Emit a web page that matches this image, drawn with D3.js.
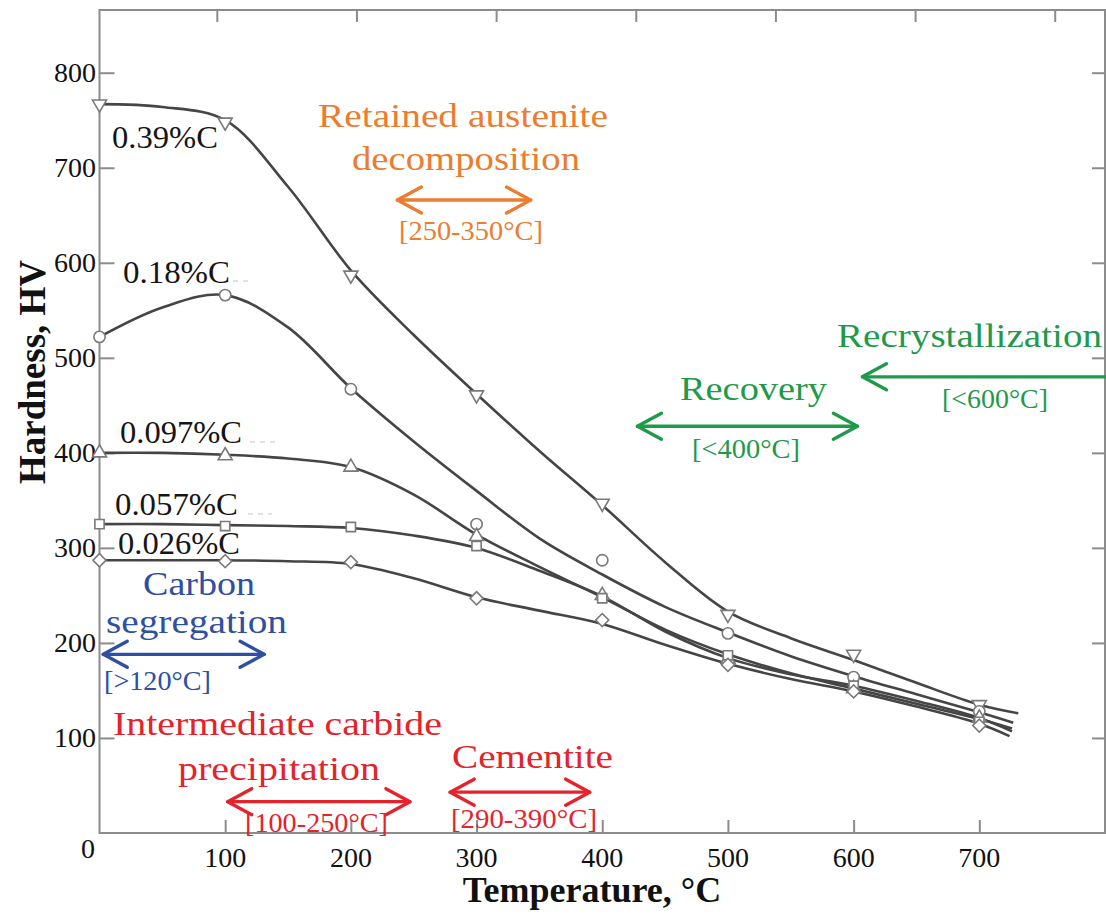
<!DOCTYPE html>
<html><head><meta charset="utf-8">
<script src="https://cdnjs.cloudflare.com/ajax/libs/d3/7.8.5/d3.min.js"></script>
<style>html,body{margin:0;padding:0;background:#fff;}svg{display:block;}</style>
</head><body>
<script>
// ---------------- data ----------------
// measured points (markers)
const temps = [0, 100, 200, 300, 400, 500, 600, 700];
const seriesNames = ["0.39%C", "0.18%C", "0.097%C", "0.057%C", "0.026%C"];
const hv039  = [767, 748, 587, 461, 347, 230, 188, 135];
const hv018  = [522, 566, 467, 325, 287, 210, 164, 128];
const hv0097 = [400, 397, 385, 312, 250, 183, 152, 121];
const hv0057 = [325, 323, 322, 302, 247, 187, 155, 117];
const hv0026 = [287, 286, 285, 247, 224, 177, 149, 113];
// fitted curves
const fitT    = [0, 50, 100, 150, 200, 250, 300, 350, 400, 450, 500, 550, 600, 650, 700];
const fit039  = [767, 764, 750, 680, 592, 524, 462, 402, 345, 285, 233, 205, 182, 158, 135];
const fit018  = [522, 553, 566, 532, 468, 412, 360, 310, 272, 238, 211, 186, 165, 146, 127];
const fit0097 = [400, 400, 398, 394, 385, 356, 314, 280, 248, 214, 188, 168, 152, 136, 120];
const fit0057 = [325, 325, 324, 323, 321, 313, 300, 276, 249, 212, 184, 167, 155, 139, 121];
const fit0026 = [287, 287, 287, 286, 283, 268, 248, 234, 220, 198, 178, 162, 149, 133, 115];
const fitEndT  = [731, 727, 726, 726, 724];
const fitEndHV = [126, 116, 110, 107, 102];
const xTicks = [0, 100, 200, 300, 400, 500, 600, 700];
const yTicks = [100, 200, 300, 400, 500, 600, 700, 800];
const topTicksF = [200, 400, 600, 800, 1000, 1200, 1400];
// process ranges (°C) shown by arrows
const rangeNames = ["Retained austenite decomposition", "Carbon segregation", "Intermediate carbide precipitation", "Cementite", "Recovery", "Recrystallization"];
const rangeFrom = [237, 3, 102, 279, 428, 607];
const rangeTo   = [343, 131, 247, 390, 603, 800];
const rangeHeads = ["both", "both", "both", "both", "both", "left"];

// ---------------- layout ----------------
const W = 1106, H = 914;
const svg = d3.select("body").append("svg").attr("width", W).attr("height", H);
const x = d3.scaleLinear().domain([0, 800]).range([99.5, 1105]);
const y = d3.scaleLinear().domain([0, 866]).range([833, 10]);
const SERIF = "'Liberation Serif', 'Times New Roman', serif";
const axisCol = "#8c8c8c";

svg.append("rect").attr("x", x(0)).attr("y", y(866)).attr("width", x(800) - x(0)).attr("height", y(0) - y(866))
  .attr("fill", "none").attr("stroke", axisCol).attr("stroke-width", 2);

const gx = svg.append("g").attr("transform", `translate(0,${y(0)})`)
  .call(d3.axisTop(x).tickValues(xTicks.slice(1)).tickSize(13).tickFormat(""));
const gxTop = svg.append("g").attr("transform", `translate(0,${y(866)})`)
  .call(d3.axisBottom(x).tickValues(topTicksF.map(f => (f - 32) * 5 / 9)).tickSize(12).tickFormat(""));
const gy = svg.append("g").attr("transform", `translate(${x(0)},0)`)
  .call(d3.axisRight(y).tickValues(yTicks).tickSize(15).tickFormat(""));
const gyR = svg.append("g").attr("transform", `translate(${x(800)},0)`)
  .call(d3.axisLeft(y).tickValues(yTicks).tickSize(13).tickFormat(""));
[gx, gxTop, gy, gyR].forEach(g => {
  g.select(".domain").remove();
  g.selectAll(".tick line").attr("stroke", axisCol).attr("stroke-width", 2);
});

function txt(str, px, py, o = {}) {
  const t = svg.append("text").attr("x", px).attr("y", py)
    .attr("font-family", SERIF).attr("font-size", o.size || 28)
    .attr("font-weight", o.weight || "normal").attr("fill", o.fill || "#1a1a1a")
    .attr("text-anchor", o.anchor || "start").text(str);
  if (o.width) t.attr("textLength", o.width).attr("lengthAdjust", "spacingAndGlyphs");
  if (o.transform) t.attr("transform", o.transform);
  return t;
}

yTicks.forEach(v => txt(String(v), 96, y(v) + 9, { anchor: "end", size: 28, fill: "#111" }));
xTicks.forEach(v => {
  if (v === 0) txt("0", 88, 858, { anchor: "middle", size: 28, fill: "#111" });
  else txt(String(v), x(v), 867, { anchor: "middle", size: 28, fill: "#111" });
});

txt("Temperature, °C", 592, 902, { anchor: "middle", size: 36, weight: "bold", fill: "#111" });
txt("Hardness, HV", 0, 0, { anchor: "middle", size: 37, weight: "bold", fill: "#111", transform: "translate(45,372) rotate(-90)" });

// ---------------- curves ----------------
const allHV = [hv039, hv018, hv0097, hv0057, hv0026];
const allFit = [fit039, fit018, fit0097, fit0057, fit0026];
const symbols = [
  { type: d3.symbolTriangle, rot: 180 },
  { type: d3.symbolCircle, rot: 0 },
  { type: d3.symbolTriangle, rot: 0 },
  { type: d3.symbolSquare, rot: 0 },
  { type: d3.symbolSquare, rot: 45 }
];
const line = d3.line().x(d => x(d[0])).y(d => y(d[1])).curve(d3.curveCatmullRom.alpha(0.5));
allFit.forEach((vals, i) => {
  const pts = fitT.map((t, j) => [t, vals[j]]);
  pts.push([fitEndT[i], fitEndHV[i]]);
  svg.append("path").datum(pts).attr("d", line).attr("fill", "none")
    .attr("stroke", "#454545").attr("stroke-width", 2.6);
});
allHV.forEach((vals, i) => {
  const s = symbols[i];
  const sym = d3.symbol().type(s.type).size(s.type === d3.symbolCircle ? 100 : 85);
  svg.append("g").selectAll("path").data(temps.map((t, j) => [t, vals[j]])).join("path")
    .attr("d", sym)
    .attr("transform", d => `translate(${x(d[0])},${y(d[1])}) rotate(${s.rot})`)
    .attr("fill", "#fff").attr("stroke", "#7a7a7a").attr("stroke-width", 1.6);
});

const labelPos = [[112, 148, 106], [123, 283, 107], [120, 443, 122], [115, 515, 123], [118, 554, 122]];
seriesNames.forEach((n, i) => txt(n, labelPos[i][0], labelPos[i][1], { size: 31, width: labelPos[i][2], fill: "#151515" }));
[[233, 249, 281], [250, 276, 442], [248, 272, 514]].forEach(d =>
  svg.append("line").attr("x1", d[0]).attr("x2", d[1]).attr("y1", d[2]).attr("y2", d[2])
    .attr("stroke", "#c4c4c4").attr("stroke-width", 1.2).attr("stroke-dasharray", "5,5"));

// ---------------- annotations ----------------
const ORANGE = "#EC7C30", BLUE = "#2E4FA3", RED = "#E4232B", GREEN = "#1F9A4B";
const arrowY = [666, 188, 33, 43, 428, 480];
const arrowCol = [ORANGE, BLUE, RED, RED, GREEN, GREEN];
function arrow(i) {
  const x1 = x(rangeFrom[i]), x2 = x(rangeTo[i]), yy = y(arrowY[i]);
  const g = svg.append("g").attr("stroke", arrowCol[i]).attr("stroke-width", 3.4).attr("fill", "none")
    .attr("stroke-linecap", "round").attr("stroke-linejoin", "round");
  g.append("line").attr("x1", x1).attr("x2", x2).attr("y1", yy).attr("y2", yy);
  const L = 24, Hh = 13;
  if (rangeHeads[i] === "both" || rangeHeads[i] === "left")
    g.append("path").attr("d", `M${x1 + L},${yy - Hh}L${x1},${yy}L${x1 + L},${yy + Hh}`);
  if (rangeHeads[i] === "both" || rangeHeads[i] === "right")
    g.append("path").attr("d", `M${x2 - L},${yy - Hh}L${x2},${yy}L${x2 - L},${yy + Hh}`);
}
rangeNames.forEach((n, i) => arrow(i));

txt("Retained austenite", 318, 127, { size: 34, width: 290, fill: ORANGE });
txt("decomposition", 352, 170, { size: 34, width: 228, fill: ORANGE });
txt("[250-350°C]", 399, 240, { size: 28, width: 144, fill: ORANGE });
txt("Carbon", 143, 595, { size: 34, width: 112, fill: BLUE });
txt("segregation", 106, 633, { size: 34, width: 181, fill: BLUE });
txt("[>120°C]", 104, 690, { size: 28, width: 107, fill: BLUE });
txt("Intermediate carbide", 113, 735, { size: 34, width: 329, fill: RED });
txt("precipitation", 178, 780, { size: 34, width: 202, fill: RED });
txt("[100-250°C]", 245, 832, { size: 28, width: 143, fill: RED });
txt("Cementite", 452, 768, { size: 34, width: 161, fill: RED });
txt("[290-390°C]", 451, 828, { size: 28, width: 146, fill: RED });
txt("Recrystallization", 837, 347, { size: 34, width: 265, fill: GREEN });
txt("[<600°C]", 942, 408, { size: 28, width: 106, fill: GREEN });
txt("Recovery", 680, 400, { size: 34, width: 147, fill: GREEN });
txt("[<400°C]", 692, 458, { size: 28, width: 108, fill: GREEN });
</script>
</body></html>
